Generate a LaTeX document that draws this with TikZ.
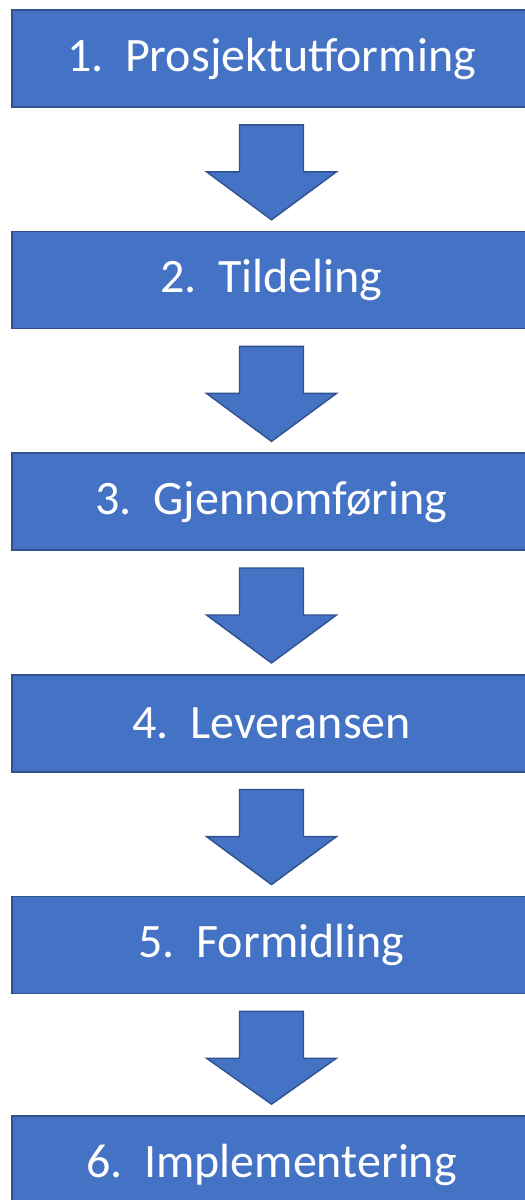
\documentclass[tikz,border=0pt]{standalone}
\usepackage{fontspec}
\setmainfont{Carlito}
\usetikzlibrary{calc, positioning}
\definecolor{officeblue}{HTML}{4472C4}
\definecolor{officeedge}{HTML}{2F528F}

\begin{document}
\begin{tikzpicture}[x=1pt, y=-1pt,
        phase/.style={draw=officeedge, fill=officeblue, line width=1.6pt, text=white,
            minimum width=519pt, minimum height=97pt, inner sep=0pt,
            font=\fontsize{48}{56}\selectfont},
        blockarrow/.style={draw=officeedge, fill=officeblue, line width=1.4pt, line join=miter}]
        \useasboundingbox (0,0) rectangle (525,1200);
        \clip (0,0) rectangle (525,1200);

        \node [phase] (P1) at (271.5,58.5) {1.\hspace{0.45em}Prosjektutforming};
        \node [phase, below=123pt of P1] (P2) {2.\hspace{0.45em}Tildeling};
        \node [phase, below=123pt of P2] (P3) {3.\hspace{0.45em}Gjennomføring};
        \node [phase, below=123pt of P3] (P4) {4.\hspace{0.45em}Leveransen};
        \node [phase, below=123pt of P4] (P5) {5.\hspace{0.45em}Formidling};
        \node [phase, below=121pt of P5] (P6) {6.\hspace{0.45em}Implementering};

        \foreach \a/\b in {P1/P2, P2/P3, P3/P4, P4/P5, P5/P6}
            \draw [blockarrow] ($(\a.south)+(-32,17)$) -- ++(64,0) -- ++(0,47) -- ++(33,0)
                -- ($(\b.north)+(0,-11)$) -- ($(\a.south)+(-65,64)$) -- ++(33,0) -- cycle;
        \end{tikzpicture}
\end{document}
